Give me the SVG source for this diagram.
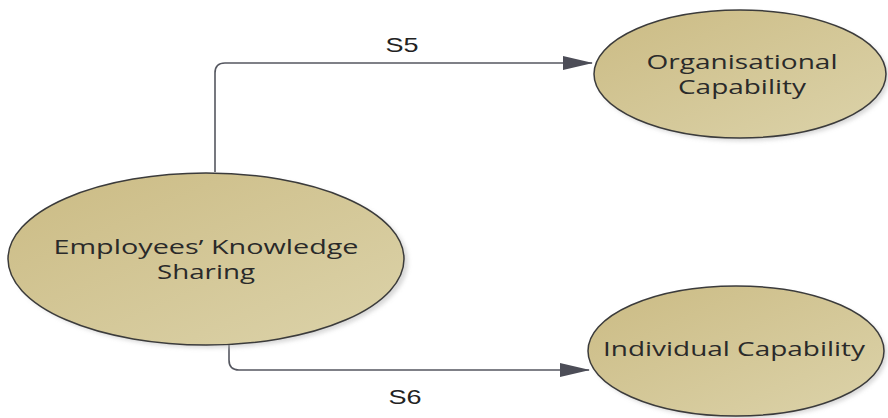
<svg xmlns="http://www.w3.org/2000/svg" width="888" height="418" viewBox="0 0 888 418">
  <style>
    .node ellipse.body { fill: url(#tan); stroke: #3b3b3b; stroke-width: 1.5; }
    .node ellipse.shade { fill: #bdbdbd; opacity: 0.6; filter: url(#soft); }
    .node text { font-family: "Open Sans", "Noto Sans", sans-serif; font-size: 20px; fill: #2a2a2a; text-anchor: middle; }
    .edge { fill: none; stroke: #555760; stroke-width: 1.6; }
    .lbl { font-family: "Liberation Sans", Arial, sans-serif; font-size: 21px; fill: #222; text-anchor: middle; }
  </style>
  <defs>
    <linearGradient id="tan" x1="0" y1="0" x2="1" y2="1">
      <stop offset="0" stop-color="#cbbb84"/>
      <stop offset="1" stop-color="#dcd3aa"/>
    </linearGradient>
    <filter id="soft" x="-10%" y="-10%" width="120%" height="120%">
      <feGaussianBlur stdDeviation="2"/>
    </filter>
    <marker id="arrow" markerWidth="30" markerHeight="14" refX="29" refY="7" orient="auto" markerUnits="userSpaceOnUse">
      <path d="M0,0 L30,7 L0,14 Z" fill="#4c4d57"/>
    </marker>
  </defs>

  <g id="connectors">
    <path class="edge" d="M215,172 V73 Q215,63 225,63 H592" marker-end="url(#arrow)"/>
    <path class="edge" d="M229,345 V360 Q229,370 239,370 H589" marker-end="url(#arrow)"/>
    <text class="lbl" x="402" y="52" textLength="33" lengthAdjust="spacingAndGlyphs">S5</text>
    <text class="lbl" x="405" y="404" textLength="33" lengthAdjust="spacingAndGlyphs">S6</text>
  </g>

  <g id="employees-knowledge-sharing" class="node">
    <ellipse class="shade" cx="210" cy="262" rx="198" ry="86"/>
    <ellipse class="body" cx="206" cy="259" rx="198" ry="86"/>
    <text x="206" y="254" textLength="305" lengthAdjust="spacingAndGlyphs">Employees’ Knowledge</text>
    <text x="206" y="279" textLength="98" lengthAdjust="spacingAndGlyphs">Sharing</text>
  </g>

  <g id="organisational-capability" class="node">
    <ellipse class="shade" cx="743" cy="77" rx="146" ry="64"/>
    <ellipse class="body" cx="740" cy="74" rx="146" ry="64"/>
    <text x="742" y="69" textLength="191" lengthAdjust="spacingAndGlyphs">Organisational</text>
    <text x="742" y="94" textLength="128" lengthAdjust="spacingAndGlyphs">Capability</text>
  </g>

  <g id="individual-capability" class="node">
    <ellipse class="shade" cx="739" cy="354" rx="148" ry="65"/>
    <ellipse class="body" cx="736" cy="351" rx="148" ry="65"/>
    <text x="734" y="356" textLength="262" lengthAdjust="spacingAndGlyphs">Individual Capability</text>
  </g>
</svg>
